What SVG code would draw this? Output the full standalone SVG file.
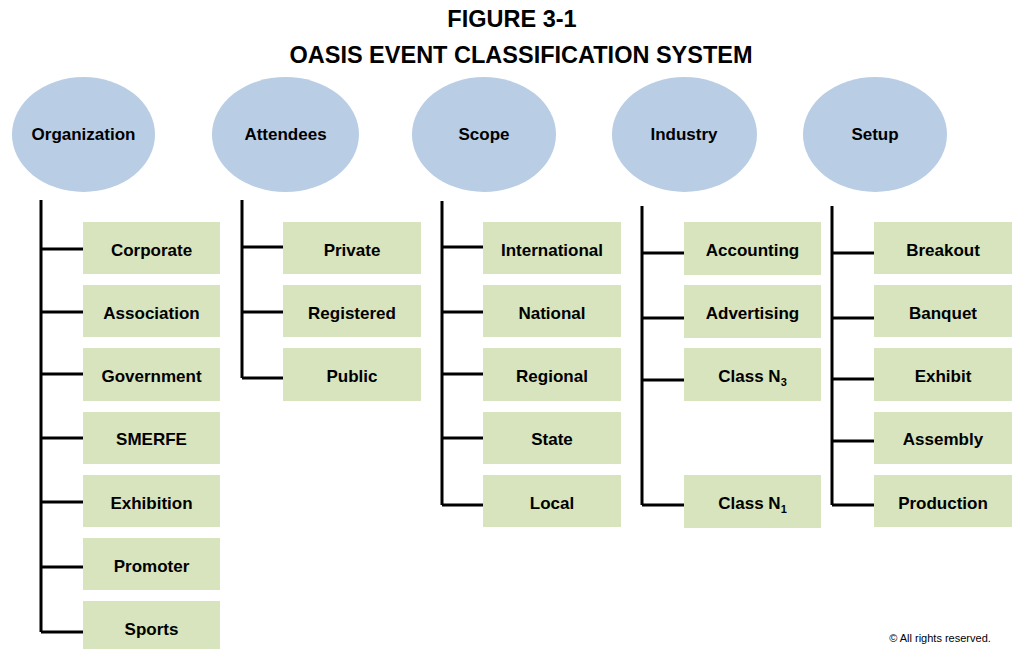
<svg xmlns="http://www.w3.org/2000/svg" width="1012" height="649" viewBox="0 0 1012 649">
<style>
text{font-family:"Liberation Sans",Arial,sans-serif;font-weight:bold;fill:#000;text-anchor:middle}
.title{font-size:23.5px}
.cat ellipse{fill:#B9CDE5}
.cat text{font-size:17px}
.item rect{fill:#D7E4BD}
.item text{font-size:17px}
.sub{font-size:11px}
#connectors path{fill:none;stroke:#000;stroke-width:3}
.copy{font-size:11px;font-weight:normal}
</style>
<rect width="1012" height="649" fill="#fff"/>
<g id="title">
<text class="title" x="512" y="27">FIGURE 3-1</text>
<text class="title" x="521" y="63">OASIS EVENT CLASSIFICATION SYSTEM</text>
</g>
<g id="connectors">
<path d="M41,200V632M41,249H83M41,312H83M41,374H83M41,438H83M41,502H83M41,567H83M41,632H83"/>
<path d="M242,200V378M242,247H283M242,312H283M242,378H283"/>
<path d="M442,201V505M442,247H483M442,312H483M442,374H483M442,438H483M442,505H483"/>
<path d="M642,206V505M642,253H684M642,318H684M642,380H684M642,505H684"/>
<path d="M832,206V505M832,253H874M832,318H874M832,379H874M832,441H874M832,505H874"/>
</g>
<g id="cat-organization" class="cat"><ellipse cx="83.5" cy="134.5" rx="71.5" ry="57.5"/><text x="83.5" y="140">Organization</text></g>
<g id="cat-attendees" class="cat"><ellipse cx="285.5" cy="134.5" rx="73.5" ry="57.5"/><text x="285.5" y="140">Attendees</text></g>
<g id="cat-scope" class="cat"><ellipse cx="484" cy="134.5" rx="72" ry="57.5"/><text x="484" y="140">Scope</text></g>
<g id="cat-industry" class="cat"><ellipse cx="684.5" cy="134.5" rx="72.5" ry="57.5"/><text x="684" y="140">Industry</text></g>
<g id="cat-setup" class="cat"><ellipse cx="875" cy="134.5" rx="72" ry="57.5"/><text x="875" y="140">Setup</text></g>

<g id="org-corporate" class="item"><rect x="83" y="222" width="137" height="52"/><text x="151.5" y="256">Corporate</text></g>
<g id="org-association" class="item"><rect x="83" y="285" width="137" height="52"/><text x="151.5" y="319">Association</text></g>
<g id="org-government" class="item"><rect x="83" y="348" width="137" height="53"/><text x="151.5" y="382">Government</text></g>
<g id="org-smerfe" class="item"><rect x="83" y="412" width="137" height="52"/><text x="151.5" y="445">SMERFE</text></g>
<g id="org-exhibition" class="item"><rect x="83" y="475" width="137" height="52"/><text x="151.5" y="509">Exhibition</text></g>
<g id="org-promoter" class="item"><rect x="83" y="538" width="137" height="52"/><text x="151.5" y="572">Promoter</text></g>
<g id="org-sports" class="item"><rect x="83" y="601" width="137" height="52"/><text x="151.5" y="635">Sports</text></g>

<g id="att-private" class="item"><rect x="283" y="222" width="138" height="52"/><text x="352" y="256">Private</text></g>
<g id="att-registered" class="item"><rect x="283" y="285" width="138" height="52"/><text x="352" y="319">Registered</text></g>
<g id="att-public" class="item"><rect x="283" y="348" width="138" height="53"/><text x="352" y="382">Public</text></g>

<g id="scope-international" class="item"><rect x="483" y="222" width="138" height="52"/><text x="552" y="256">International</text></g>
<g id="scope-national" class="item"><rect x="483" y="285" width="138" height="52"/><text x="552" y="319">National</text></g>
<g id="scope-regional" class="item"><rect x="483" y="348" width="138" height="53"/><text x="552" y="382">Regional</text></g>
<g id="scope-state" class="item"><rect x="483" y="412" width="138" height="52"/><text x="552" y="445">State</text></g>
<g id="scope-local" class="item"><rect x="483" y="475" width="138" height="52"/><text x="552" y="509">Local</text></g>

<g id="ind-accounting" class="item"><rect x="684" y="222" width="137" height="53"/><text x="752.5" y="256">Accounting</text></g>
<g id="ind-advertising" class="item"><rect x="684" y="285" width="137" height="53"/><text x="752.5" y="319">Advertising</text></g>
<g id="ind-classn3" class="item"><rect x="684" y="348" width="137" height="53"/><text x="752.5" y="382">Class N<tspan class="sub" dy="4">3</tspan></text></g>
<g id="ind-classn1" class="item"><rect x="684" y="475" width="137" height="53"/><text x="752.5" y="509">Class N<tspan class="sub" dy="4">1</tspan></text></g>

<g id="setup-breakout" class="item"><rect x="874" y="222" width="138" height="52"/><text x="943" y="256">Breakout</text></g>
<g id="setup-banquet" class="item"><rect x="874" y="285" width="138" height="52"/><text x="943" y="319">Banquet</text></g>
<g id="setup-exhibit" class="item"><rect x="874" y="348" width="138" height="53"/><text x="943" y="382">Exhibit</text></g>
<g id="setup-assembly" class="item"><rect x="874" y="412" width="138" height="52"/><text x="943" y="445">Assembly</text></g>
<g id="setup-production" class="item"><rect x="874" y="475" width="138" height="52"/><text x="943" y="509">Production</text></g>

<text class="copy" x="940" y="642">© All rights reserved.</text>
</svg>
